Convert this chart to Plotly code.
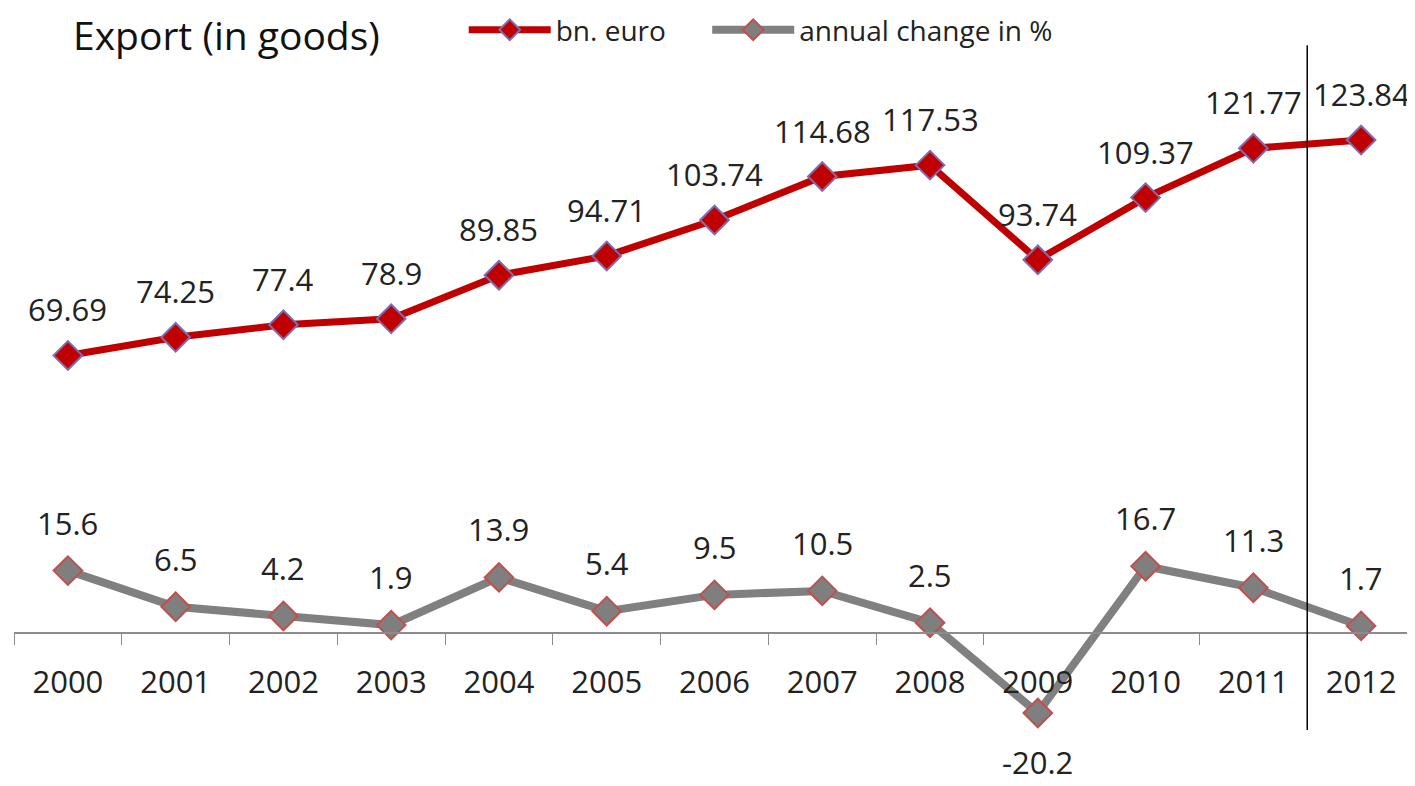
"""Export (in goods): value in bn. euro and annual change in %."""

import plotly.graph_objects as go

years = ["2000", "2001", "2002", "2003", "2004", "2005", "2006",
         "2007", "2008", "2009", "2010", "2011", "2012"]
export_bn = [69.69, 74.25, 77.4, 78.9, 89.85, 94.71, 103.74,
             114.68, 117.53, 93.74, 109.37, 121.77, 123.84]
change_pct = [15.6, 6.5, 4.2, 1.9, 13.9, 5.4, 9.5,
              10.5, 2.5, -20.2, 16.7, 11.3, 1.7]

FONT = "Open Sans"
Y_RANGE = [-30, 150]
W, H = 1407, 778  # page body adds an 8px margin

fig = go.Figure()
fig.add_trace(go.Scatter(
    x=years, y=export_bn, name="bn. euro" + "\u00a0" * 5, mode="lines+markers",
    line=dict(color="#C00000", width=7),
    marker=dict(symbol="diamond", size=22, color="#C00000",
                line=dict(color="#7E6BB0", width=2)),
    cliponaxis=False,
))
fig.add_trace(go.Scatter(
    x=years, y=change_pct, name="annual change in %", mode="lines+markers",
    line=dict(color="#808080", width=8),
    marker=dict(symbol="diamond", size=22, color="#7F7F7F",
                line=dict(color="#C0504D", width=2)),
    cliponaxis=False,
))

# value labels
for i, v in enumerate(export_bn):
    fig.add_annotation(xref="x", yref="y", x=i, y=v, text=f"{v:g}",
                       showarrow=False, yshift=46,
                       font=dict(family=FONT, size=31, color="#222"))
for i, v in enumerate(change_pct):
    fig.add_annotation(xref="x", yref="y", x=i, y=v, text=f"{v:g}",
                       showarrow=False, yshift=-49 if v < 0 else 48,
                       font=dict(family=FONT, size=31, color="#222"))

# separator between 2011 and 2012
fig.add_shape(type="line", xref="x", yref="y", x0=11.5, x1=11.5, y0=-24.5, y1=147.7,
              line=dict(color="black", width=1.5))

fig.update_layout(
    width=W, height=H,
    margin=dict(l=6, r=0, t=28, b=34, autoexpand=False),
    paper_bgcolor="white", plot_bgcolor="white",
    font=dict(family=FONT, color="#222"),
    title=dict(text="Export (in goods)", x=65 / W, xanchor="left",
               xref="container", yref="container", y=1 - 28 / H, yanchor="middle",
               font=dict(family=FONT, size=39, color="#111")),
    legend=dict(orientation="h", x=0.321, xanchor="left", yref="container",
                y=1 - 22 / H, yanchor="middle", font=dict(family=FONT, size=28),
                bgcolor="rgba(0,0,0,0)", itemwidth=82),
    showlegend=True,
    xaxis=dict(type="category", range=[-0.5, 12.5], anchor="free",
               position=-Y_RANGE[0] / (Y_RANGE[1] - Y_RANGE[0]),
               showline=True, linecolor="#8c8c8c", linewidth=1.5,
               ticks="outside", tickson="boundaries", ticklen=12, tickcolor="#8c8c8c",
               ticklabelstandoff=22,
               showgrid=False, tickfont=dict(family=FONT, size=31, color="#222")),
    yaxis=dict(range=Y_RANGE, visible=False, showgrid=False, zeroline=False),
)

fig.write_html("out.html")
